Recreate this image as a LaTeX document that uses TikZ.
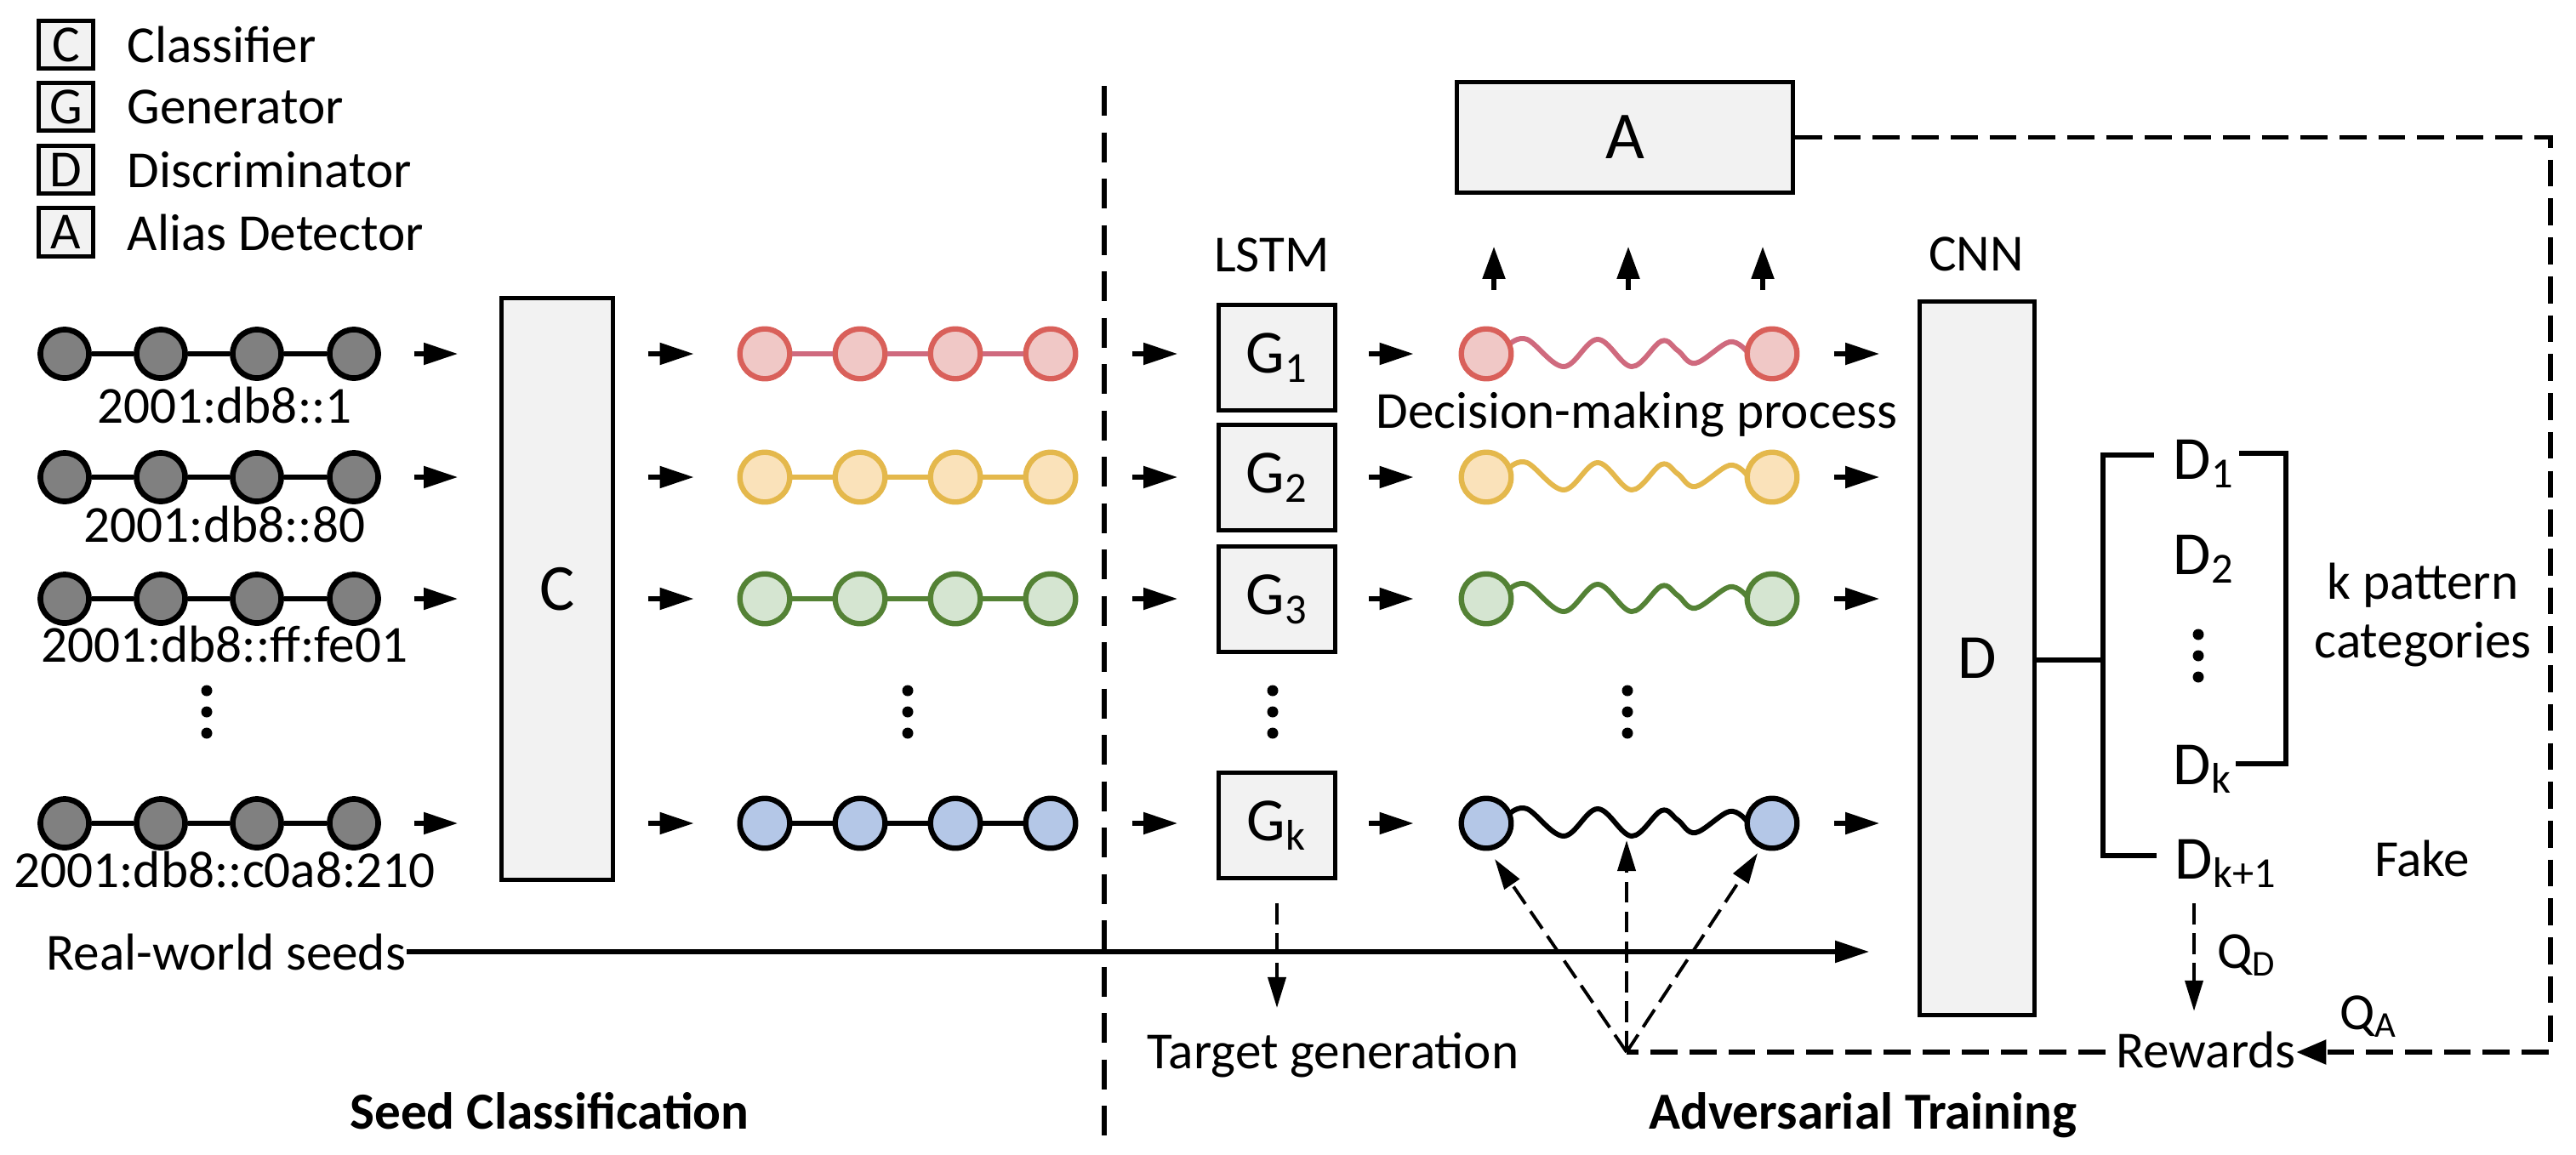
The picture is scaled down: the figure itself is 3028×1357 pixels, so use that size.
\documentclass[tikz,border=0pt]{standalone}
\usepackage{fontspec}
\setmainfont{Carlito}
\usetikzlibrary{arrows.meta}
\definecolor{boxfill}{HTML}{F2F2F2}
\definecolor{seedgray}{HTML}{808080}
\definecolor{rfill}{HTML}{F0C8C6}
\definecolor{rline}{HTML}{D9605A}
\definecolor{rlink}{HTML}{CF6A7E}
\definecolor{yfill}{HTML}{FAE2BA}
\definecolor{yline}{HTML}{E4B84C}
\definecolor{gfill}{HTML}{D5E5D1}
\definecolor{gline}{HTML}{548235}
\definecolor{bfill}{HTML}{B4C7E7}
\newcommand\txtsize{\fontsize{17.4pt}{20pt}\selectfont}
\begin{document}
\begin{tikzpicture}[x=0.01cm,y=-0.01cm,
  txt/.style={font=\txtsize, inner sep=0pt},
  bold/.style={font={\txtsize\bfseries}, inner sep=0pt},
  blk/.style={draw=black, line width=1.5pt, fill=boxfill, inner sep=0pt},
  seed/.style={circle, draw=black, fill=seedgray, line width=1.9pt, minimum size=0.57cm, inner sep=0pt},
  bead/.style={circle, line width=1.8pt, minimum size=0.585cm, inner sep=0pt},
  chain/.style={line width=1.8pt},
  arr/.style={line width=1.5pt, -{Triangle[length=0.40cm,width=0.25cm]}},
  thinarr/.style={line width=1.1pt, dash pattern=on 7pt off 3pt, -{Triangle[length=0.36cm,width=0.21cm]}},
  sepdash/.style={line width=1.5pt, dash pattern=on 10pt off 5.5pt},
  loopdash/.style={line width=1.6pt, dash pattern=on 9pt off 4pt}
]
\useasboundingbox (0,0) rectangle (3028,1357);

% ---------- legend ----------
\foreach \n/\l/\t/\y in {lc/C/Classifier/52.5, lg/G/Generator/125.5, ld/D/Discriminator/199.5, la/A/Alias Detector/273}{
  \node[blk, txt, minimum width=0.634cm, minimum height=0.564cm] (\n) at (77.5,\y) {\l};
  \node[txt, anchor=west] (\n-t) at (149,\y) {\t};
}

% ---------- boxes ----------
\node[blk, minimum width=1.304cm, minimum height=6.834cm, font=\fontsize{22pt}{24pt}\selectfont] (C) at (655,692.5) {C};
\node[blk, minimum width=1.344cm, minimum height=8.384cm, font=\fontsize{21pt}{24pt}\selectfont] (D) at (2324,774) {D};
\node[blk, minimum width=3.944cm, minimum height=1.294cm, font=\fontsize{22.5pt}{24pt}\selectfont] (A) at (1910,161.5) {A};
\foreach \rw/\y in {1/420.5, 2/561.5, 3/704.5, k/970.5}{
  \node[blk, minimum width=1.364cm, minimum height=1.234cm, font=\fontsize{20.5pt}{24pt}\selectfont] (G\rw) at (1501,\y) {G\textsubscript{\rw}};
}

% ---------- seed chains ----------
\foreach \rw/\y/\lab/\bl in {1/416/{2001:db8::1}/497, 2/561/{2001:db8::80}/637, 3/704/{2001:db8::ff:fe01}/778, k/968/{2001:db8::c0a8:210}/1043}{
  \foreach \i/\x in {1/76,2/189,3/302,4/416}{
    \node[seed] (s\rw\i) at (\x,\y) {};
  }
  \draw[chain] (s\rw1) -- (s\rw2) -- (s\rw3) -- (s\rw4);
  \node[txt, anchor=base] (sl\rw) at (264,\bl) {\lab};
  \draw[arr, shorten <=0.39cm, shorten >=0.49cm] (s\rw4.east) -- (C.west |- s\rw4.east);
}

% ---------- coloured chains ----------
\foreach \rw/\y/\fc/\lc/\kc in {1/416/rfill/rline/rlink, 2/561/yfill/yline/yline, 3/704/gfill/gline/gline, k/968/bfill/black/black}{
  \foreach \i/\x in {1/899,2/1011,3/1123,4/1235}{
    \node[bead, fill=\fc, draw=\lc] (c\rw\i) at (\x,\y) {};
  }
  \draw[chain, \kc] (c\rw1) -- (c\rw2) -- (c\rw3) -- (c\rw4);
  \draw[arr, shorten <=0.39cm, shorten >=0.51cm] (C.east |- c\rw1.west) -- (c\rw1.west);
  \draw[arr, shorten <=0.64cm, shorten >=0.46cm] (c\rw4.east) -- (G\rw.west |- c\rw4.east);
  % wavy sequence
  \draw[line width=1.7pt, \kc, shift={(0,\y)}] plot[smooth, tension=0.6] coordinates {(1774,-11) (1795,-17) (1838,15) (1878,-17) (1918,15) (1953,-15) (1972,-4) (1993,11) (2033,-14) (2054,-2)};
  \node[bead, fill=\fc, draw=\lc] (w\rw1) at (1747,\y) {};
  \node[bead, fill=\fc, draw=\lc] (w\rw2) at (2083,\y) {};
  \draw[arr, shorten <=0.37cm, shorten >=0.53cm] (G\rw.east |- w\rw1.west) -- (w\rw1.west);
  \draw[arr, shorten <=0.41cm, shorten >=0.45cm] (w\rw2.east) -- (D.west |- w\rw2.east);
}

% ---------- vertical dots ----------
\foreach \x in {243,1067,1496,1913}{
  \foreach \y in {812,837,862}{ \fill (\x,\y) circle (6.5); }
}
\foreach \y in {746,771,796}{ \fill (2584,\y) circle (6.5); }

% ---------- separator ----------
\coordinate (sepT) at (1298,101);
\coordinate (sepB) at (1298,1335);
\draw[sepdash] (sepT) -- (sepB);

% ---------- labels ----------
\node[txt, anchor=base] (lstm) at (1495,319) {LSTM};
\node[txt, anchor=base] (cnn) at (2323,318) {CNN};
\node[txt, anchor=base] (dmp) at (1924,503) {Decision-making process};
\node[txt, anchor=base west] (rws) at (54,1140) {Real-world seeds};
\node[txt, anchor=base] (tg) at (1567,1256) {Target generation};
\node[txt, anchor=base] (rew) at (2593,1255) {Rewards};
\node[txt, anchor=base west] (qd) at (2606,1138) {Q\textsubscript{D}};
\node[txt, anchor=base west] (qa) at (2750,1210) {Q\textsubscript{A}};
\node[txt, anchor=base] (fake) at (2847,1030) {Fake};
\node[txt, anchor=base] (kp1) at (2848,704) {k pattern};
\node[txt, anchor=base] (kp2) at (2848,773) {categories};
\node[bold, anchor=base] (sc) at (646,1327) {Seed Classification};
\node[bold, anchor=base] (at) at (2190,1327) {Adversarial Training};

% ---------- discriminator outputs ----------
\node[txt, font=\fontsize{20.5pt}{24pt}\selectfont, anchor=base west] (d1) at (2554,563) {D\textsubscript{1}};
\node[txt, font=\fontsize{20.5pt}{24pt}\selectfont, anchor=base west] (d2) at (2554,675) {D\textsubscript{2}};
\node[txt, font=\fontsize{20.5pt}{24pt}\selectfont, anchor=base west] (dk) at (2554,922) {D\textsubscript{k}};
\node[txt, font=\fontsize{20.5pt}{24pt}\selectfont, anchor=base west] (dk1) at (2556,1033) {D\textsubscript{k+1}};
\coordinate (brk) at (2472,776);
\coordinate (b1) at (2532,535);
\coordinate (b2) at (2535,1006);
\draw[line width=1.5pt] (D.east |- brk) -- (brk);
\draw[line width=1.5pt] (b1) -| (brk) |- (b2);
\coordinate (rb1) at (2632,533);
\coordinate (rb2) at (2628,898);
\draw[line width=1.5pt] (rb1) -- ++(55,0) |- (rb2);

% ---------- up arrows to alias detector ----------
\foreach \i/\x in {1/1756,2/1914,3/2072}{
  \coordinate (up\i) at (\x,341);
  \draw[line width=1.5pt, -{Triangle[length=0.38cm,width=0.26cm]}, shorten >=0.61cm] (up\i) -- (up\i |- A.south);
}

% ---------- real-world seeds line ----------
\draw[arr, shorten >=0.57cm] (rws.east) -- (D.west |- rws.east);

% ---------- dashed feedback ----------
\coordinate (cornerBR) at (2998,1237);
\draw[loopdash, -{Triangle[length=0.35cm,width=0.28cm]}] (A.east) -| (cornerBR) -- (rew.east |- cornerBR);
\coordinate (conv) at (1912,1237);
\draw[loopdash, shorten <=0.12cm] (rew.west |- conv) -- (conv);
\coordinate (tipL) at (1757,1010);
\coordinate (tipM) at (1912,988);
\coordinate (tipR) at (2066,1003);
\draw[thinarr] (conv) -- (tipL);
\draw[thinarr] (conv) -- (tipM);
\draw[thinarr] (conv) -- (tipR);
\draw[thinarr, shorten <=0.27cm, shorten >=0.28cm] (Gk.south) -- (Gk.south |- tg.north);
\coordinate (qdtop) at (2579,1062);
\draw[thinarr, shorten >=0.23cm] (qdtop) -- (qdtop |- rew.north);
\end{tikzpicture}
\end{document}
